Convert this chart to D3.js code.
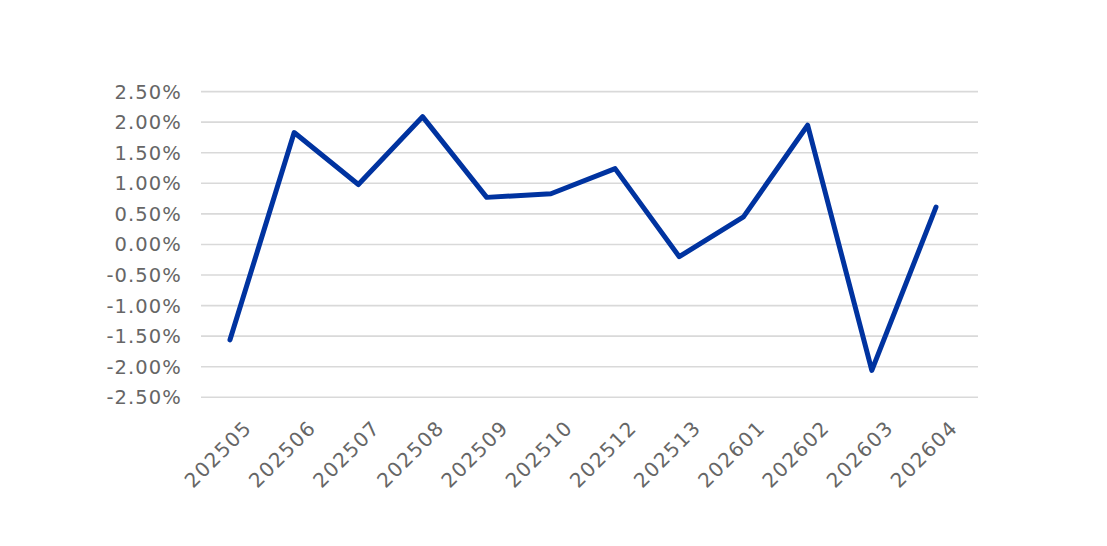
<!DOCTYPE html>
<html>
<head>
<meta charset="utf-8">
<script src="https://cdn.jsdelivr.net/npm/d3@7"></script>
<style>
  html, body { margin: 0; padding: 0; background: #fff; }
  #chart { width: 1107px; height: 546px; }
</style>
</head>
<body>
<div id="chart"></div>
<script>
// periods on the x axis
const periods = ["202505", "202506", "202507", "202508", "202509", "202510",
  "202512", "202513", "202601", "202602", "202603", "202604"];
// monthly change, percent
const values = [-1.56, 1.83, 0.98, 2.09, 0.77, 0.83, 1.24, -0.20, 0.45, 1.95, -2.06, 0.61];
// y tick values, percent
const yTicks = [2.5, 2.0, 1.5, 1.0, 0.5, 0, -0.5, -1.0, -1.5, -2.0, -2.5];

const width = 1107, height = 546;
const plot = { left: 201, right: 978, top: 91.6, bottom: 397.3 };

const svg = d3.select("#chart").append("svg")
  .attr("width", width)
  .attr("height", height);

const x = d3.scalePoint()
  .domain(periods)
  .range([230, 936]);

const y = d3.scaleLinear()
  .domain([-2.5, 2.5])
  .range([plot.bottom, plot.top]);

// gridlines
svg.append("g")
  .selectAll("line")
  .data(yTicks)
  .join("line")
  .attr("x1", plot.left)
  .attr("x2", plot.right)
  .attr("y1", d => y(d))
  .attr("y2", d => y(d))
  .attr("stroke", "#d9d9d9")
  .attr("stroke-width", 1.6);

const font = "'DejaVu Sans', sans-serif";

// y labels
const fmt = d => d.toFixed(2) + "%";
svg.append("g")
  .selectAll("text")
  .data(yTicks)
  .join("text")
  .attr("x", 182)
  .attr("y", d => y(d))
  .attr("dy", "0.36em")
  .attr("text-anchor", "end")
  .attr("font-family", font)
  .attr("font-size", 19.5)
  .attr("letter-spacing", 1.1)
  .attr("fill", "#666")
  .text(fmt);

// x labels, rotated
svg.append("g")
  .selectAll("text")
  .data(periods)
  .join("text")
  .attr("transform", d => `translate(${x(d) + 23},${429}) rotate(-45)`)
  .attr("text-anchor", "end")
  .attr("font-family", font)
  .attr("font-size", 20)
  .attr("letter-spacing", 1.4)
  .attr("fill", "#666")
  .text(d => d);

// the line
const line = d3.line()
  .x((d, i) => x(periods[i]))
  .y(d => y(d));

svg.append("path")
  .datum(values)
  .attr("d", line)
  .attr("fill", "none")
  .attr("stroke", "#0033a0")
  .attr("stroke-width", 5)
  .attr("stroke-linejoin", "round")
  .attr("stroke-linecap", "round");
</script>
</body>
</html>
